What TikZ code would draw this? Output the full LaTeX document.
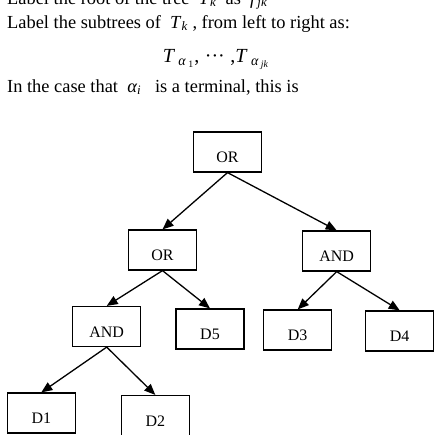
\documentclass[tikz,border=0pt]{standalone}
\usepackage{fontspec}
\setmainfont{Liberation Serif}
\usetikzlibrary{arrows.meta}
\newcommand{\itsub}[1]{\textsubscript{\textit{#1}}}

\tikzset{
  gate/.style={draw, line width=1.2pt, minimum width=68pt, minimum height=40pt, inner sep=0pt, text height=21pt, text depth=0pt, font=\fontsize{16}{19}\selectfont},
  link/.style={-{Triangle[length=11pt,width=9pt]}, line width=1.3pt},
  textline/.style={inner sep=0pt, font=\fontsize{18.4}{22}\selectfont}
}

\begin{document}
\begin{tikzpicture}[x=1pt, y=-1pt]
  \useasboundingbox (0,0) rectangle (438,434);
  \clip (0,0) rectangle (438,434);
  \node[textline, anchor=base west] (l1) at (7,4) {Label the root of the tree~~\textit{T}\itsub{k}~~as~~\textit{f}\itsub{jk}};
  \node[textline, anchor=base west] (l2) at (7,28) {Label the subtrees of~~\textit{T}\itsub{k}~, from left to right as:};
  \node[textline, anchor=base, font=\fontsize{20}{24}\selectfont] (l3) at (216,62) {\textit{T}\,\textsubscript{\textit{α}\,\textsubscript{1}},\;···\;,\textit{T}\,\textsubscript{\textit{α}\,\textsubscript{\textit{jk}}}};
  \node[textline, anchor=base west] (l4) at (7,92) {In the case that~~\textit{α}\itsub{i}~~ is a terminal, this is};
  \node[gate] (root) at (227.5,152) {OR};
  \node[gate] (or) at (162.5,250) {OR};
  \node[gate] (and) at (336.7,251) {AND};
  \node[gate] (and2) at (106.7,326.5) {AND};
  \node[gate] (d5) at (210,329) {D5};
  \node[gate] (d3) at (297.7,330) {D3};
  \node[gate] (d4) at (399.7,331) {D4};
  \node[gate] (d1) at (41.3,413) {D1};
  \node[gate] (d2) at (155.3,415.5) {D2};
  \draw[link] (root.south) -- (or.north);
  \draw[link] (root.south) -- (and.north);
  \draw[link] (or.south) -- (and2.north);
  \draw[link] (or.south) -- (d5.north);
  \draw[link] (and.south) -- (d3.north);
  \draw[link] (and.south) -- (d4.north);
  \draw[link] (and2.south) -- (d1.north);
  \draw[link] (and2.south) -- (d2.north);
\end{tikzpicture}
\end{document}
